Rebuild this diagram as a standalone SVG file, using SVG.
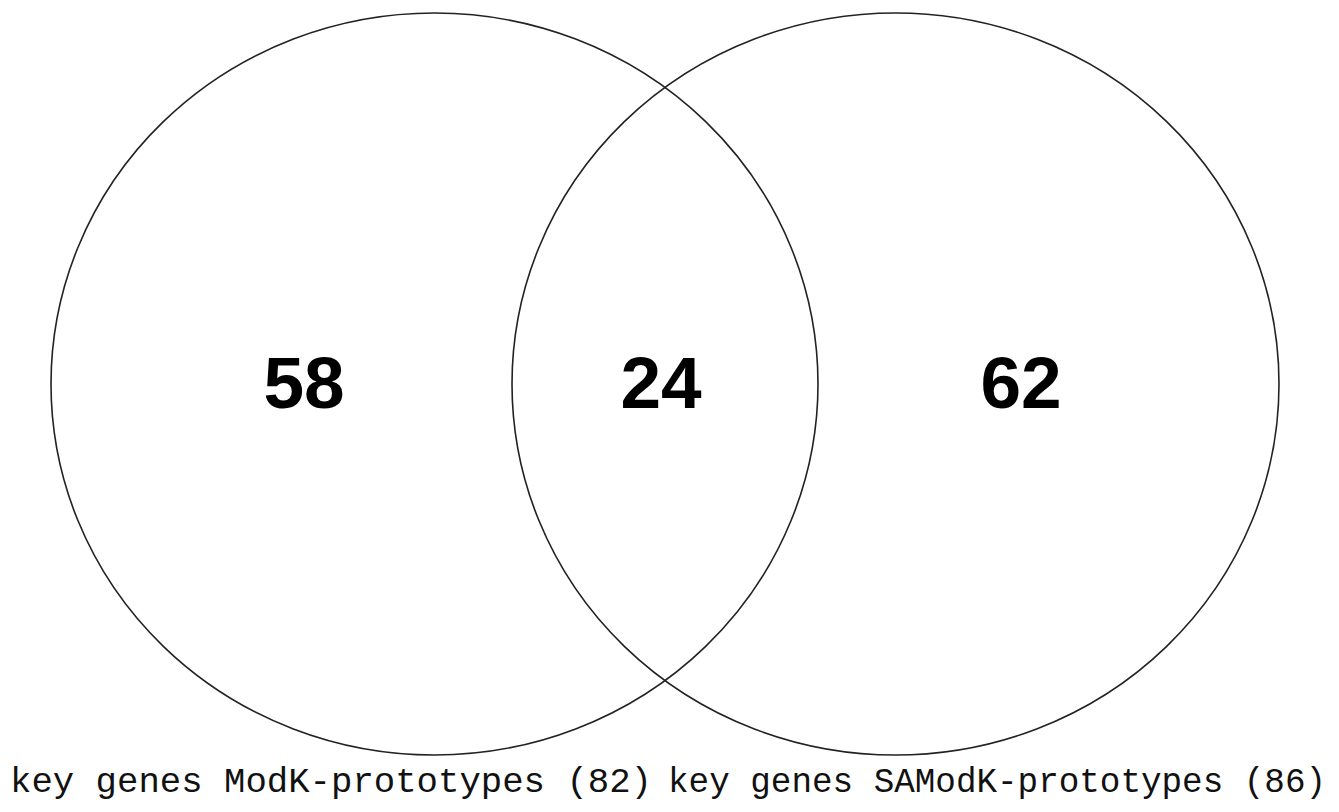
<svg xmlns="http://www.w3.org/2000/svg" width="1339" height="812" viewBox="0 0 1339 812">
  <style>
    .set { fill: none; stroke: #222; stroke-width: 1.6; }
    .count { font-family: "Liberation Sans", Arial, sans-serif; font-weight: bold; font-size: 73px; fill: #000; text-anchor: middle; }
    .label { font-family: "Liberation Mono", "Courier New", monospace; font-size: 35px; fill: #111; }
  </style>
  <rect width="1339" height="812" fill="#fff"/>
  <g id="set-modk">
    <ellipse class="set" cx="434.5" cy="384" rx="383.5" ry="371"/>
    <text class="count" x="304" y="408">58</text>
    <text class="label" x="10" y="792" textLength="642" lengthAdjust="spacingAndGlyphs">key genes ModK-prototypes (82)</text>
  </g>
  <g id="set-samodk">
    <ellipse class="set" cx="895.5" cy="384" rx="383.5" ry="371"/>
    <text class="count" x="1021" y="408">62</text>
    <text class="label" x="668" y="792" textLength="658" lengthAdjust="spacingAndGlyphs">key genes SAModK-prototypes (86)</text>
  </g>
  <g id="overlap">
    <text class="count" x="661" y="408">24</text>
  </g>
</svg>
